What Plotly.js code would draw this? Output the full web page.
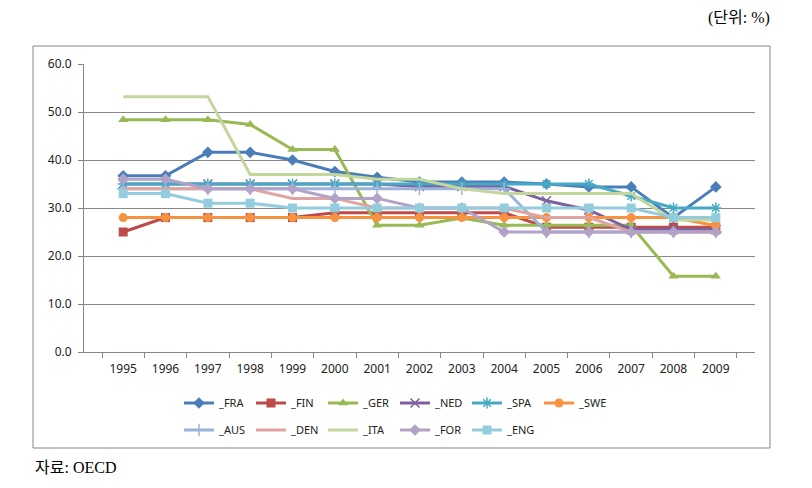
<!DOCTYPE html>
<html>
<head>
<meta charset="utf-8">
<script src="https://cdn.plot.ly/plotly-3.0.1.min.js"></script>
<style>html,body{margin:0;padding:0;background:#fff;}#chart{width:812px;height:488px;}</style>
</head>
<body>
<div id="chart"></div>
<script>
var years = ['1995','1996','1997','1998','1999','2000','2001','2002','2003','2004','2005','2006','2007','2008','2009'];
var FRA = [36.7,36.7,41.6,41.6,40.0,37.6,36.4,35.4,35.4,35.4,35.0,34.4,34.4,28.0,34.4];
var FIN = [25,28,28,28,28,29,29,29,29,29,26,26,26,26,26];
var GER = [48.4,48.4,48.4,47.4,42.2,42.2,26.4,26.4,27.9,26.4,26.4,26.4,26.4,15.8,15.8];
var NED = [35,35,35,35,35,35,35,34.5,34.5,34.5,31.5,29.6,25.5,25.5,25.5];
var SPA = [35,35,35,35,35,35,35,35,35,35,35,35,32.5,30,30];
var SWE = [28,28,28,28,28,28,28,28,28,28,28,28,28,28,26.3];
var AUS = [34,34,34,34,34,34,34,34,34,34,25,25,25,25,25];
var DEN = [34,34,34,34,32,32,30,30,30,30,28,28,25,25,25];
var ITA = [53.2,53.2,53.2,37,37,37,36,36,34,33,33,33,33,27.5,27.5];
var FOR = [36,36,34,34,34,32,32,30,30,25,25,25,25,25,25];
var ENG = [33,33,31,31,30,30,30,30,30,30,30,30,30,28,28];

var seriesNames = ['_FRA','_FIN','_GER','_NED','_SPA','_SWE','_AUS','_DEN','_ITA','_FOR','_ENG'];
var seriesData = [FRA,FIN,GER,NED,SPA,SWE,AUS,DEN,ITA,FOR,ENG];
var lineColors = ['#4A7EBB','#BE4B48','#98B954','#7D60A0','#46AAC5','#F69240','#9DB2DA','#E0A3A1','#C3D69B','#B3A2C7','#93CDDD'];
var symbols = ['diamond','square','triangle-up','x-thin-open','asterisk-open','circle','cross-thin-open',null,null,'diamond','square'];

var traces = seriesNames.map(function(n,i){
  var t = {
    type:'scatter', x:years, y:seriesData[i], name:n,
    mode: symbols[i] ? 'lines+markers' : 'lines',
    line:{color:lineColors[i], width:3},
    legend: i < 6 ? 'legend' : 'legend2',
    hoverinfo:'skip'
  };
  if(symbols[i]){
    var thin = symbols[i].indexOf('open') >= 0;
    t.marker = {symbol:symbols[i], size:9, color:lineColors[i],
      line:{color:lineColors[i], width: thin ? 1.5 : 0}};
  }
  return t;
});

var layout = {
  width:812, height:488,
  margin:{l:84, r:57, t:64, b:136},
  paper_bgcolor:'#fff', plot_bgcolor:'#fff',
  font:{family:'Noto Sans, Open Sans, sans-serif', size:11, color:'#222'},
  showlegend:true,
  xaxis:{type:'category', showgrid:false, showline:true, linecolor:'#868686', linewidth:1,
    ticks:'outside', tickson:'boundaries', ticklen:5, tickcolor:'#868686',
    ticklabelstandoff:6,
    tickfont:{size:12, color:'#222'}, fixedrange:true},
  yaxis:{range:[0,60], dtick:10, tickformat:'.1f', showgrid:true, gridcolor:'#888888', gridwidth:1,
    showline:true, linecolor:'#868686', ticks:'outside', ticklen:5, tickcolor:'#868686',
    ticklabelstandoff:4,
    zeroline:false, tickfont:{size:12, color:'#222'}, fixedrange:true},
  legend:{orientation:'h', x:(179-84)/671, xanchor:'left', y:(352-403)/288, yanchor:'middle',
    entrywidth:27, itemwidth:30, font:{size:11, color:'#222'}, bgcolor:'rgba(0,0,0,0)', traceorder:'normal'},
  legend2:{orientation:'h', x:(179-84)/671, xanchor:'left', y:(352-430)/288, yanchor:'middle',
    entrywidth:27, itemwidth:30, font:{size:11, color:'#222'}, bgcolor:'rgba(0,0,0,0)', traceorder:'normal'},
  shapes:[{type:'rect', xref:'paper', yref:'paper', x0:(33-84)/671, x1:(770-84)/671,
    y0:(352-448)/288, y1:(352-46)/288, line:{color:'#868686', width:1}, fillcolor:'rgba(0,0,0,0)', layer:'below'}],
  annotations:[
    {text:'(단위: %)', xref:'paper', yref:'paper', x:(772-84)/671, y:(352-18)/288, xanchor:'right', yanchor:'middle',
     showarrow:false, font:{family:'Liberation Serif, Noto Sans CJK KR, serif', size:16, color:'#000'}},
    {text:'자료: OECD', xref:'paper', yref:'paper', x:(33-84)/671, y:(352-467)/288, xanchor:'left', yanchor:'middle',
     showarrow:false, font:{family:'Liberation Serif, Noto Sans CJK KR, serif', size:16, color:'#000'}}
  ]
};
Plotly.newPlot('chart', traces, layout, {displayModeBar:false, staticPlot:true});
</script>
</body>
</html>
